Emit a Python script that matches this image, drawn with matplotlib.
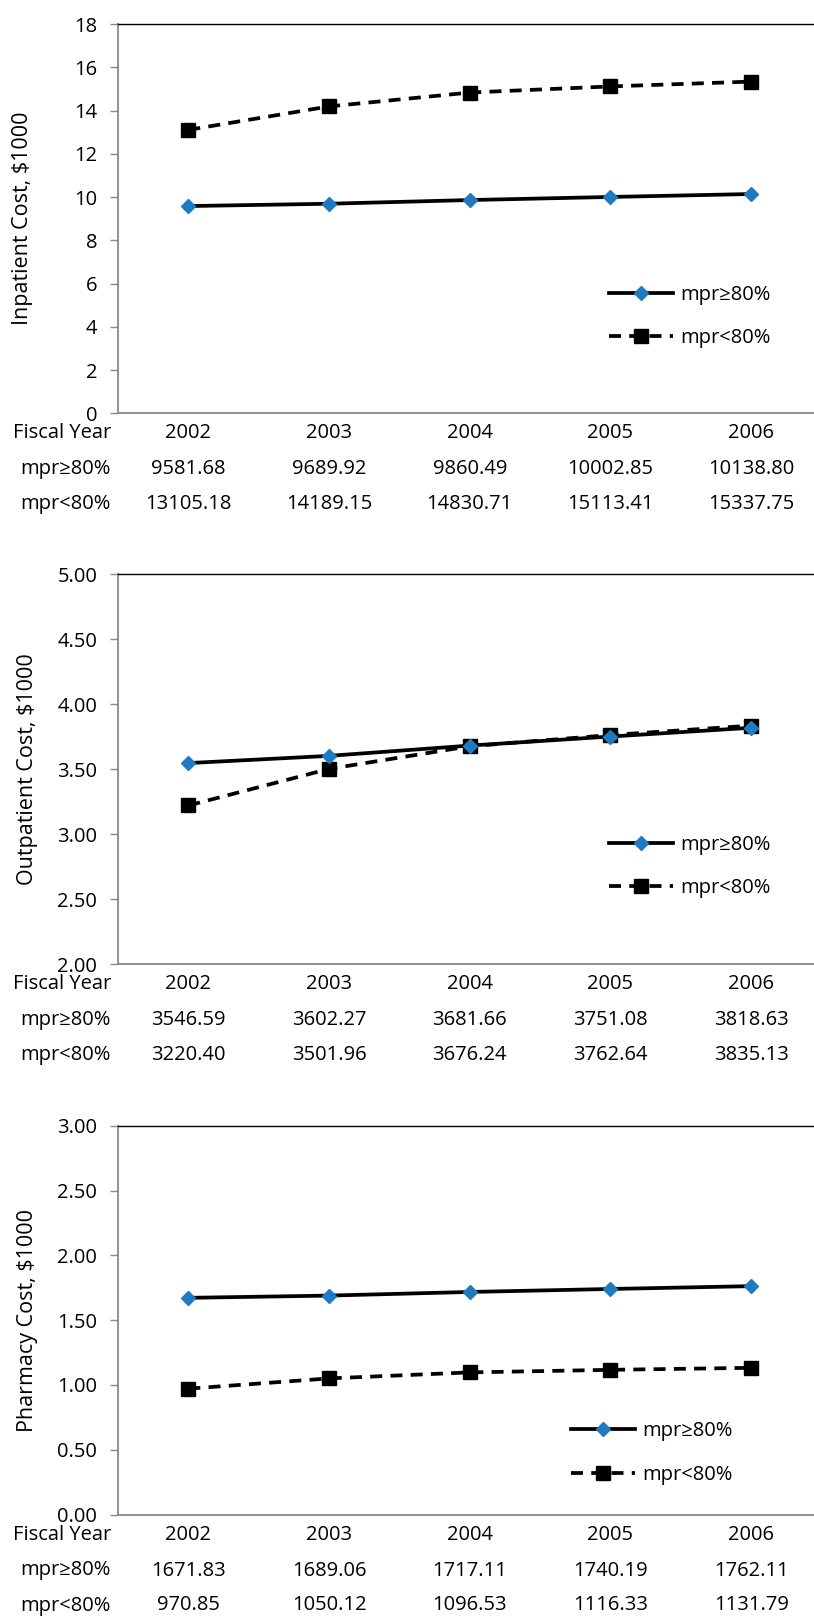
import matplotlib
matplotlib.use("Agg")
import matplotlib.pyplot as plt
from matplotlib.ticker import MultipleLocator, StrMethodFormatter

plt.rcParams['font.family'] = ['Open Sans', 'DejaVu Sans']

years = ['2002', '2003', '2004', '2005', '2006']
series_names = ['mpr≥80%', 'mpr<80%']

inpatient_hi = [9581.68, 9689.92, 9860.49, 10002.85, 10138.80]
inpatient_lo = [13105.18, 14189.15, 14830.71, 15113.41, 15337.75]
outpatient_hi = [3546.59, 3602.27, 3681.66, 3751.08, 3818.63]
outpatient_lo = [3220.40, 3501.96, 3676.24, 3762.64, 3835.13]
pharmacy_hi = [1671.83, 1689.06, 1717.11, 1740.19, 1762.11]
pharmacy_lo = [970.85, 1050.12, 1096.53, 1116.33, 1131.79]

W, H = 814, 1616
FS = 14.5
BLUE = '#1f7bc1'
GRAY = '#898989'

# (ylabel, hi, lo, ymin, ymax, step, fmt, top px, bottom px, legend anchor px, ylabel x px)
panels = [
    ("Inpatient Cost, $1000", inpatient_hi, inpatient_lo, 0, 18, 2, "{x:.0f}",
     24, 413.3, (609, 316.5), 22),
    ("Outpatient Cost, $1000", outpatient_hi, outpatient_lo, 2, 5, 0.5, "{x:.2f}",
     574.3, 964, (609, 866.5), 27),
    ("Pharmacy Cost, $1000", pharmacy_hi, pharmacy_lo, 0, 3, 0.5, "{x:.2f}",
     1125.7, 1514.5, (571, 1453), 27),
]

fig = plt.figure(figsize=(W / 100, H / 100), dpi=100)

left_px = 118
bin_px = 140.7

for (ylab, hi, lo, ymin, ymax, step, fmt, top, bot, leg, ylx) in panels:
    ax = fig.add_axes([left_px / W, 1 - bot / H, 5 * bin_px / W, (bot - top) / H])
    x = list(range(len(years)))
    hi_k = [v / 1000 for v in hi]
    lo_k = [v / 1000 for v in lo]

    ax.plot(x, hi_k, color='black', lw=2.7, marker='D', ms=6.8,
            mfc=BLUE, mec=BLUE, label=series_names[0], zorder=3)
    ax.plot(x, lo_k, color='black', lw=2.7, marker='s', ms=9.5,
            mfc='black', mec='black', dashes=(3.2, 2.2), label=series_names[1], zorder=2)

    ax.set_xlim(-0.5, 4.5)
    ax.set_ylim(ymin, ymax)
    ax.yaxis.set_major_locator(MultipleLocator(step))
    ax.yaxis.set_major_formatter(StrMethodFormatter(fmt))
    ax.set_xticks([])
    ax.tick_params(axis='y', direction='out', length=6, width=1, color=GRAY,
                   pad=9, labelsize=FS)

    ax.spines['left'].set_color(GRAY)
    ax.spines['bottom'].set_color(GRAY)
    ax.spines['left'].set_linewidth(1.3)
    ax.spines['bottom'].set_linewidth(1.3)
    ax.spines['top'].set_color('black')
    ax.spines['top'].set_linewidth(1.0)
    ax.spines['right'].set_visible(False)

    ax.set_ylabel(ylab, fontsize=15.5, va='center')
    ax.yaxis.set_label_coords((ylx - left_px) / (5 * bin_px), 0.5)

    # data table below the axis
    rows = [("Fiscal Year", years),
            (series_names[0], ["%.2f" % v for v in hi]),
            (series_names[1], ["%.2f" % v for v in lo])]
    offsets = [20, 56, 91]
    for (name, vals), off in zip(rows, offsets):
        ax.annotate(name, xy=(0, 0), xycoords='axes fraction',
                    xytext=(-7 * 0.72, -off * 0.72), textcoords='offset points',
                    ha='right', va='center', fontsize=FS, annotation_clip=False)
        for xi, v in zip(x, vals):
            ax.annotate(v, xy=(xi, 0), xycoords=('data', 'axes fraction'),
                        xytext=(0, -off * 0.72), textcoords='offset points',
                        ha='center', va='center', fontsize=FS, annotation_clip=False)

    ax.legend(loc='center left', bbox_to_anchor=(leg[0] / W, 1 - leg[1] / H),
              bbox_transform=fig.transFigure, frameon=False, fontsize=FS,
              borderpad=0, borderaxespad=0, handlelength=3.2, handletextpad=0.35,
              labelspacing=1.15)

fig.savefig("out.png", dpi=100)
